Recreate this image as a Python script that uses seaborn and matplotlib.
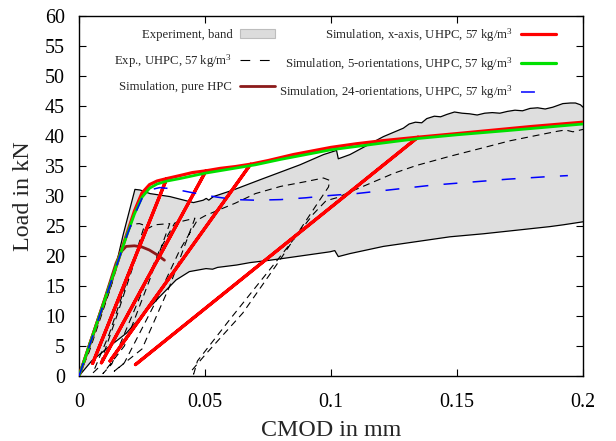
import numpy as np
import matplotlib
matplotlib.use("Agg")
import matplotlib.pyplot as plt
from matplotlib.patches import Patch
from matplotlib.lines import Line2D
import seaborn as sns

# ---------------- data (CMOD in mm, load in kN) ----------------
band_upper_x = [0, 0.006, 0.013, 0.0175, 0.0222, 0.0242, 0.0282, 0.0361, 0.0454, 0.0493,
                0.0505, 0.0515, 0.0533, 0.0612, 0.0718, 0.0877, 0.097, 0.1022, 0.1029,
                0.1075, 0.1208, 0.1287, 0.131, 0.1335, 0.136, 0.138, 0.141, 0.1435, 0.146,
                0.149, 0.152, 0.155, 0.158, 0.161, 0.164, 0.167, 0.17, 0.173, 0.176, 0.179,
                0.182, 0.185, 0.188, 0.19, 0.192, 0.195, 0.197, 0.199, 0.2]
band_upper_y = [0, 7.0, 15.4, 23.5, 31.1, 31.0, 30.4, 29.9, 28.9, 29.3,
                29.6, 29.3, 29.9, 31.0, 32.7, 35.2, 36.9, 37.6, 36.2,
                36.9, 39.9, 41.3, 42.0, 42.3, 42.2, 42.9, 43.3, 43.2, 43.6,
                44.0, 43.8, 43.7, 43.5, 43.8, 43.9, 43.8, 44.1, 44.3, 44.2, 44.6,
                44.7, 44.5, 44.8, 45.1, 45.4, 45.5, 45.5, 45.2, 44.8]
band_lower_x = [0, 0.005, 0.012, 0.0187, 0.0253, 0.032, 0.0385, 0.0438, 0.0504, 0.053,
                0.055, 0.0626, 0.0679, 0.0758, 0.0811, 0.0996, 0.1015, 0.1029, 0.1075,
                0.1208, 0.134, 0.1472, 0.1604, 0.1737, 0.1869, 0.1922, 0.2]
band_lower_y = [0, 2.5, 4.9, 7.1, 10.2, 13.2, 16.0, 17.4, 17.9, 17.8,
                18.1, 18.5, 18.9, 19.3, 19.6, 20.7, 20.9, 19.9, 20.4,
                21.6, 22.4, 23.2, 23.7, 24.3, 24.9, 25.2, 25.7]

exp_x = [0, 0.004, 0.008, 0.012, 0.016, 0.019, 0.021, 0.024, 0.026,
         0.02, 0.012, 0.0055, 0.008, 0.015, 0.022, 0.027, 0.03,
         0.036, 0.028, 0.018, 0.0095, 0.013, 0.022, 0.032, 0.038, 0.042,
         0.046, 0.036, 0.025, 0.014, 0.018, 0.03, 0.04, 0.047, 0.05,
         0.055, 0.062, 0.07, 0.08, 0.09, 0.097, 0.0995, 0.099, 0.095,
         0.08, 0.065, 0.05, 0.0445, 0.0455, 0.047, 0.06, 0.08, 0.093, 0.098,
         0.103, 0.106, 0.1155, 0.125, 0.134, 0.147, 0.16, 0.171, 0.184, 0.19,
         0.193, 0.196, 0.2]
exp_y = [0, 4.0, 9.0, 14.0, 19.5, 23.5, 25.3, 25.4, 25.1,
         17.0, 7.0, 0.5, 1.5, 10.0, 19.0, 24.5, 25.2,
         25.4, 16.0, 5.0, 0.4, 2.0, 11.0, 21.0, 25.5, 25.9,
         26.3, 15.0, 4.5, 0.8, 2.2, 12.0, 21.0, 26.0, 26.7,
         27.6, 28.8, 30.4, 31.6, 32.4, 33.0, 32.6, 31.5, 29.0,
         19.5, 10.5, 3.5, 0.8, 0.3, 2.5, 9.5, 20.0, 27.0, 29.2,
         29.8, 30.4, 32.1, 33.8, 35.1, 36.6, 38.0, 39.2, 40.3, 40.8,
         41.0, 40.7, 41.1]

hpc_x = [0, 0.005, 0.01, 0.0147, 0.0167, 0.0187, 0.022, 0.025, 0.0279, 0.031, 0.0339]
hpc_y = [0, 6.3, 12.6, 18.8, 20.7, 21.6, 21.7, 21.5, 21.0, 20.2, 19.3]

xaxis_x = [0, 0.005, 0.01, 0.015, 0.019, 0.022, 0.025, 0.028, 0.031, 0.0348,
           0.0054, 0.0348, 0.04, 0.045, 0.0504,
           0.0089, 0.0504, 0.056, 0.062, 0.0681,
           0.0123, 0.0681, 0.075, 0.085, 0.095, 0.1, 0.11, 0.12, 0.1345,
           0.0224, 0.1345, 0.15, 0.165, 0.18, 0.2]
xaxis_y = [0, 6.2, 12.4, 18.6, 23.7, 27.5, 30.5, 31.9, 32.5, 32.9,
           2.1, 32.9, 33.4, 33.9, 34.2,
           2.2, 34.2, 34.6, 34.9, 35.3,
           2.5, 35.3, 35.9, 36.9, 37.7, 38.1, 38.7, 39.2, 39.8,
           1.9, 39.8, 40.4, 41.0, 41.6, 42.3]

orient5_x = [0, 0.005, 0.01, 0.015, 0.019, 0.022, 0.025, 0.028, 0.031, 0.035, 0.04,
             0.05, 0.06, 0.07, 0.08, 0.09, 0.1, 0.12, 0.135, 0.15, 0.17, 0.2]
orient5_y = [0, 6.2, 12.4, 18.6, 23.5, 27.0, 29.8, 31.3, 32.0, 32.5, 32.9,
             33.8, 34.5, 35.2, 36.1, 36.9, 37.7, 38.8, 39.6, 40.2, 40.9, 42.0]

orient24_x = [0, 0.005, 0.01, 0.015, 0.019, 0.022, 0.025, 0.028, 0.032, 0.037, 0.042,
              0.048, 0.055, 0.062, 0.07, 0.08, 0.09, 0.1, 0.11, 0.125, 0.14, 0.155,
              0.17, 0.185, 0.194]
orient24_y = [0, 6.1, 12.3, 18.5, 23.4, 26.8, 29.6, 31.0, 31.4, 31.2, 30.8,
              30.3, 29.8, 29.4, 29.3, 29.4, 29.7, 30.1, 30.4, 31.1, 31.8, 32.3,
              32.8, 33.2, 33.4]

x_ticks = [0, 0.05, 0.1, 0.15, 0.2]
x_tick_labels = ["0", "0.05", "0.1", "0.15", "0.2"]
y_ticks = list(range(0, 61, 5))

labels = ["Experiment, band",
          "Exp., UHPC, 57 kg/m$^3$",
          "Simulation, pure HPC",
          "Simulation, x-axis, UHPC, 57 kg/m$^3$",
          "Simulation, 5-orientations, UHPC, 57 kg/m$^3$",
          "Simulation, 24-orientations, UHPC, 57 kg/m$^3$"]

# ---------------- style ----------------
sns.set_style("ticks")
plt.rcParams["font.family"] = ["Liberation Serif", "DejaVu Serif"]
plt.rcParams["mathtext.fontset"] = "custom"
plt.rcParams["mathtext.rm"] = "Liberation Serif"
plt.rcParams["mathtext.it"] = "Liberation Serif:italic"
plt.rcParams["lines.scale_dashes"] = False

fig = plt.figure(figsize=(6.16, 4.41), dpi=100)
ax = fig.add_axes([79 / 616, 65 / 441, 504 / 616, 360 / 441])

# experimental scatter band
poly_x = np.concatenate([band_upper_x, band_lower_x[::-1]])
poly_y = np.concatenate([band_upper_y, band_lower_y[::-1]])
ax.fill(poly_x, poly_y, facecolor="#dedede", edgecolor="none", zorder=1)
for bx, by in ((band_upper_x, band_upper_y), (band_lower_x, band_lower_y)):
    sns.lineplot(x=bx, y=by, sort=False, estimator=None, color="black",
                 linewidth=0.9, ax=ax, zorder=2)

# experimental curve (dashed), then the simulations
sns.lineplot(x=exp_x, y=exp_y, sort=False, estimator=None, color="black",
             linewidth=0.8, linestyle=(0, (5, 3.5)), ax=ax, zorder=3)
sns.lineplot(x=hpc_x, y=hpc_y, sort=False, estimator=None, color="#8b1a1a",
             linewidth=2.0, ax=ax, zorder=4)
sns.lineplot(x=xaxis_x, y=xaxis_y, sort=False, estimator=None, color="#ff0000",
             linewidth=2.3, ax=ax, zorder=5)
sns.lineplot(x=orient5_x, y=orient5_y, sort=False, estimator=None, color="#00e000",
             linewidth=2.0, ax=ax, zorder=6)
sns.lineplot(x=orient24_x, y=orient24_y, sort=False, estimator=None, color="#0000ff",
             linewidth=1.1, linestyle=(0, (10, 11)), ax=ax, zorder=7)

# legend: two columns, label left of its key
handles = [
    Patch(facecolor="#dcdcdc", edgecolor="#bdbdbd", linewidth=0.8),
    Line2D([], [], color="black", linewidth=0.8, linestyle=(0, (7, 7))),
    Line2D([], [], color="#8b1a1a", linewidth=2.0),
    Line2D([], [], color="#ff0000", linewidth=2.3),
    Line2D([], [], color="#00e000", linewidth=2.3),
    Line2D([], [], color="#0000ff", linewidth=1.1, linestyle=(0, (10, 22))),
]
leg = ax.legend(handles, labels, ncol=2, markerfirst=False, frameon=False,
                loc="upper right", bbox_to_anchor=(0.956, 0.986), borderaxespad=0,
                fontsize=9.2, handlelength=2.75, handletextpad=0.6,
                columnspacing=0.3, labelspacing=0.88)

# axes
ax.set_xlim(0, 0.2)
ax.set_ylim(0, 60)
ax.set_xticks(x_ticks)
ax.set_xticklabels(x_tick_labels)
ax.set_yticks(y_ticks)
ax.tick_params(direction="in", length=5, width=0.8, top=True, right=True,
               labelsize=14.4, colors="black")
ax.tick_params(axis="x", pad=12)
ax.tick_params(axis="y", pad=10)
for s in ax.spines.values():
    s.set_linewidth(1.0)
    s.set_color("black")
ax.set_xlabel("CMOD in mm", fontsize=17.3, labelpad=6)
ax.set_ylabel("Load in kN", fontsize=17.3, labelpad=8)

fig.savefig("out.png", dpi=100)
